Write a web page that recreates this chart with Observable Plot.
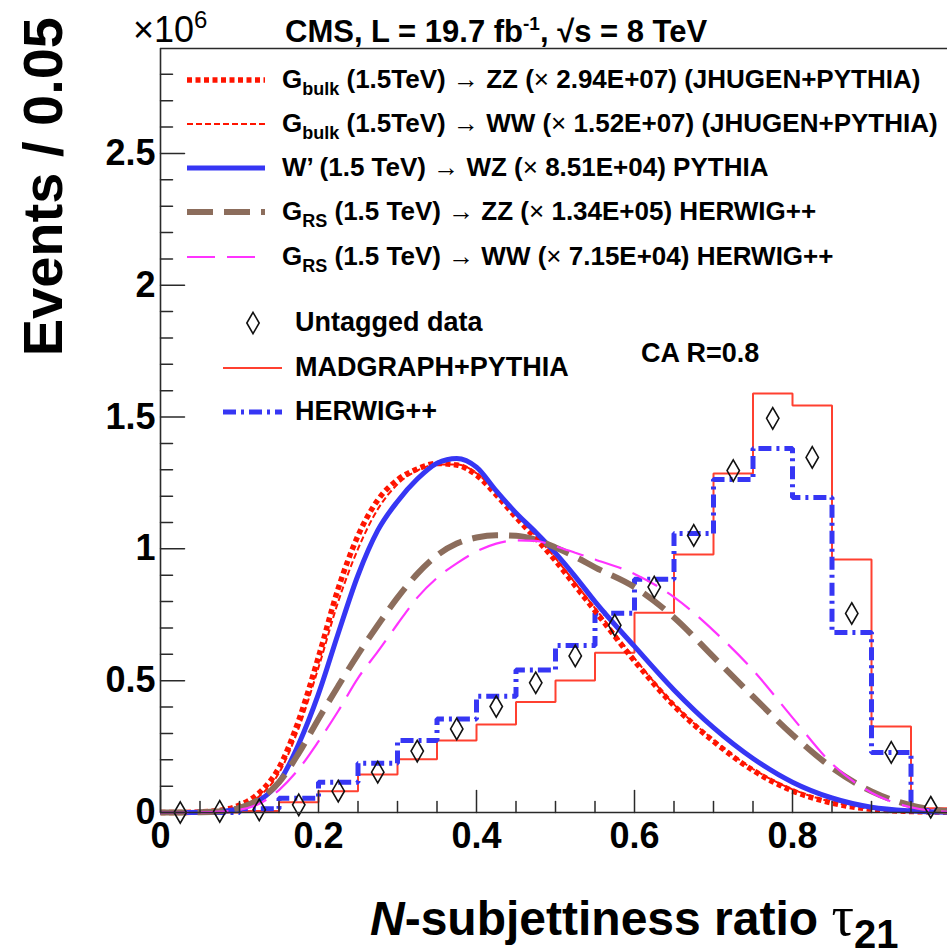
<!DOCTYPE html>
<html>
<head>
<meta charset="utf-8">
<script src="https://cdn.jsdelivr.net/npm/d3@7"></script>
<script src="https://cdn.jsdelivr.net/npm/@observablehq/plot@0.6"></script>
<style>
  body { margin: 0; background: #fff; }
  #chart { position: relative; width: 947px; height: 950px; overflow: hidden; }
  text { white-space: pre; }
</style>
</head>
<body>
<div id="chart"></div>
<script>
// ---------- data (events in units of 10^6) ----------
const binEdges   = [0, 0.05, 0.1, 0.15, 0.2, 0.25, 0.3, 0.35, 0.4, 0.45, 0.5, 0.55, 0.6, 0.65, 0.7, 0.75, 0.8, 0.85, 0.9, 0.95, 1.0];
const binCenters = [0.025, 0.075, 0.125, 0.175, 0.225, 0.275, 0.325, 0.375, 0.425, 0.475, 0.525, 0.575, 0.625, 0.675, 0.725, 0.775, 0.825, 0.875, 0.925, 0.975];
const untaggedData = [0.0, 0.004, 0.01, 0.029, 0.081, 0.153, 0.233, 0.317, 0.402, 0.492, 0.594, 0.71, 0.855, 1.051, 1.297, 1.495, 1.347, 0.755, 0.228, 0.02];
const madgraphPythia = [0, 0, 0.006, 0.039, 0.081, 0.144, 0.202, 0.273, 0.334, 0.419, 0.501, 0.606, 0.758, 0.979, 1.286, 1.589, 1.544, 0.96, 0.326, 0.016];
const herwigPP = [0, 0, 0.014, 0.054, 0.115, 0.187, 0.273, 0.355, 0.441, 0.541, 0.633, 0.756, 0.885, 1.058, 1.263, 1.381, 1.195, 0.683, 0.228, 0.008];

const curveX  = [0, 0.025, 0.05, 0.075, 0.1, 0.125, 0.15, 0.175, 0.2, 0.225, 0.25, 0.275, 0.3, 0.325, 0.35, 0.375, 0.4, 0.425, 0.45, 0.475, 0.5, 0.525, 0.55, 0.6, 0.65, 0.7, 0.75, 0.8, 0.85, 0.9, 0.95, 1.0];
const gbulkZZ = [0, 0, 0.002, 0.008, 0.028, 0.075, 0.17, 0.35, 0.59, 0.85, 1.05, 1.185, 1.262, 1.303, 1.324, 1.318, 1.28, 1.205, 1.12, 1.04, 0.955, 0.86, 0.765, 0.575, 0.405, 0.27, 0.16, 0.082, 0.036, 0.012, 0.004, 0.001];
const gbulkWW = [0, 0, 0.001, 0.006, 0.022, 0.062, 0.15, 0.32, 0.55, 0.80, 1.0, 1.15, 1.245, 1.297, 1.32, 1.32, 1.287, 1.215, 1.13, 1.05, 0.965, 0.87, 0.775, 0.585, 0.41, 0.275, 0.165, 0.088, 0.04, 0.014, 0.004, 0.001];
const wprimeWZ = [0, 0, 0.001, 0.004, 0.015, 0.045, 0.115, 0.26, 0.45, 0.68, 0.9, 1.07, 1.18, 1.265, 1.325, 1.343, 1.31, 1.22, 1.136, 1.063, 0.984, 0.895, 0.80, 0.63, 0.465, 0.322, 0.205, 0.115, 0.055, 0.02, 0.006, 0.001];
const grsZZ = [0, 0, 0.001, 0.005, 0.018, 0.05, 0.115, 0.225, 0.355, 0.48, 0.6, 0.71, 0.815, 0.905, 0.975, 1.02, 1.043, 1.052, 1.05, 1.035, 1.005, 0.97, 0.93, 0.855, 0.74, 0.59, 0.44, 0.295, 0.17, 0.08, 0.027, 0.003];
const grsWW = [0, 0, 0.0005, 0.003, 0.01, 0.033, 0.085, 0.165, 0.27, 0.385, 0.51, 0.61, 0.715, 0.815, 0.89, 0.945, 0.99, 1.02, 1.032, 1.03, 1.01, 0.985, 0.96, 0.905, 0.817, 0.69, 0.54, 0.36, 0.185, 0.075, 0.02, 0.002];

const xTickValues = [0, 0.2, 0.4, 0.6, 0.8, 1];
const xTickLabels = ["0", "0.2", "0.4", "0.6", "0.8"];
const yTickValues = [0, 0.5, 1, 1.5, 2, 2.5];
const yTickLabels = ["0", "0.5", "1", "1.5", "2", "2.5"];

// ---------- styles ----------
const FONT = "'Liberation Sans', Arial, Helvetica, sans-serif";
const BLUE = "#3636f4";
const styles = {
  gbulkZZ:  {stroke: "#ff1400", strokeWidth: 5.5, strokeDasharray: "5,3.5"},
  gbulkWW:  {stroke: "#ff1400", strokeWidth: 2, strokeDasharray: "6,3"},
  wprimeWZ: {stroke: BLUE, strokeWidth: 5},
  grsZZ:    {stroke: "#8c6d5c", strokeWidth: 6, strokeDasharray: "26,11"},
  grsWW:    {stroke: "#ff33ff", strokeWidth: 2.2, strokeDasharray: "28,12"},
  madgraph: {stroke: "#ff4030", strokeWidth: 2},
  herwig:   {stroke: BLUE, strokeWidth: 5, strokeDasharray: "13,5,3,5"}
};
const lineOpts = {strokeLinecap: "butt", strokeLinejoin: "miter"};

const Y_MAX = 2.898;
const histPoints = vals => binEdges.map((e, i) => ({x: e, y: vals[Math.min(i, vals.length - 1)]}));
const curvePoints = vals => curveX.map((x, i) => ({x, y: vals[i]}));
const dataPoints = binCenters.map((x, i) => ({x, y: untaggedData[i]}));

const tickShape = {draw(ctx, l) { ctx.moveTo(0, 0); ctx.lineTo(0, -l); }};
const xMinor = d3.range(0.05, 1.0001, 0.05).filter(v => Math.abs(v / 0.2 - Math.round(v / 0.2)) > 1e-6);
const yMinor = d3.range(0.1, Y_MAX, 0.1).filter(v => Math.abs(v / 0.5 - Math.round(v / 0.5)) > 1e-6);
const axisColor = "#2a2a2a";

const plot = Plot.plot({
  width: 947,
  height: 950,
  marginLeft: 160,
  marginRight: -3,
  marginTop: 48,
  marginBottom: 138,
  x: {domain: [0, 1]},
  y: {domain: [0, Y_MAX]},
  style: {fontFamily: FONT, background: "#fff", color: "#000"},
  marks: [
    Plot.line(histPoints(madgraphPythia), {x: "x", y: "y", curve: "step-after", ...styles.madgraph, ...lineOpts}),
    Plot.line(histPoints(herwigPP), {x: "x", y: "y", curve: "step-after", ...styles.herwig, ...lineOpts}),
    Plot.line(curvePoints(gbulkZZ), {x: "x", y: "y", curve: "monotone-x", ...styles.gbulkZZ, ...lineOpts}),
    Plot.line(curvePoints(gbulkWW), {x: "x", y: "y", curve: "monotone-x", ...styles.gbulkWW, ...lineOpts}),
    Plot.line(curvePoints(wprimeWZ), {x: "x", y: "y", curve: "monotone-x", ...styles.wprimeWZ, ...lineOpts}),
    Plot.line(curvePoints(grsZZ), {x: "x", y: "y", curve: "monotone-x", ...styles.grsZZ, ...lineOpts}),
    Plot.line(curvePoints(grsWW), {x: "x", y: "y", curve: "monotone-x", ...styles.grsWW, ...lineOpts}),
    Plot.dot(dataPoints, {x: "x", y: "y", symbol: "diamond", r: 6.5, stroke: "#111", strokeWidth: 1.6, fill: "none"}),
    // frame
    Plot.ruleX([0], {stroke: axisColor, strokeWidth: 1.6}),
    Plot.ruleY([0], {stroke: axisColor, strokeWidth: 1.6}),
    Plot.ruleY([Y_MAX], {stroke: axisColor, strokeWidth: 1.6}),
    // inward ticks
    Plot.vector(xTickValues, {x: d => d, frameAnchor: "bottom", length: 22, anchor: "start", rotate: 0, shape: tickShape, stroke: axisColor, strokeWidth: 1.5}),
    Plot.vector(xMinor, {x: d => d, frameAnchor: "bottom", length: 11, anchor: "start", rotate: 0, shape: tickShape, stroke: axisColor, strokeWidth: 1.5}),
    Plot.vector(yTickValues, {y: d => d, frameAnchor: "left", length: 24, anchor: "start", rotate: 90, shape: tickShape, stroke: axisColor, strokeWidth: 1.5}),
    Plot.vector(yMinor, {y: d => d, frameAnchor: "left", length: 12, anchor: "start", rotate: 90, shape: tickShape, stroke: axisColor, strokeWidth: 1.5}),
    // tick labels
    Plot.axisX({ticks: xTickValues.slice(0, xTickLabels.length), tickFormat: d => xTickLabels[xTickValues.indexOf(d)], tickSize: 0, tickPadding: 10, fontSize: 36, fontWeight: "bold", label: null, fill: "#000"}),
    Plot.axisY({ticks: yTickValues, tickFormat: d => yTickLabels[yTickValues.indexOf(d)], tickSize: 0, tickPadding: 5, fontSize: 36, fontWeight: "bold", label: null, fill: "#000"})
  ]
});

document.getElementById("chart").appendChild(plot);

// ---------- annotations & legend ----------
const svg = d3.select(plot);
const g = svg.append("g").attr("class", "annotations");

function addText(x, y, parts, opts = {}) {
  const t = g.append("text")
    .attr("x", x).attr("y", y)
    .attr("font-family", FONT)
    .attr("font-size", opts.size || 27)
    .attr("font-weight", opts.weight || "bold")
    .attr("text-anchor", opts.anchor || "start")
    .attr("fill", "#000");
  if (opts.transform) t.attr("transform", opts.transform);
  let shift = 0;
  for (const p of parts) {
    const s = t.append("tspan").text(p.t);
    const target = p.sub ? p.sub : (p.sup ? -p.sup : 0);
    if (target !== shift) { s.attr("dy", target - shift); shift = target; }
    if (p.size) s.attr("font-size", p.size);
    if (p.weight) s.attr("font-weight", p.weight);
    if (p.style) s.attr("font-style", p.style);
    if (p.family) s.attr("font-family", p.family);
  }
  return t;
}

function legendLine(x1, x2, y, st) {
  const l = g.append("line").attr("x1", x1).attr("x2", x2).attr("y1", y).attr("y2", y)
    .attr("stroke", st.stroke).attr("stroke-width", st.strokeWidth).attr("stroke-linecap", "butt");
  if (st.strokeDasharray) l.attr("stroke-dasharray", st.strokeDasharray);
}

// header
addText(133, 42, [{t: "×10", weight: "normal"}, {t: "6", sup: 14, size: 24, weight: "normal"}], {size: 36});
addText(285, 42, [{t: "CMS, L = 19.7 fb"}, {t: "-1", sup: 12, size: 19}, {t: ", √s = 8 TeV"}], {size: 31});

// axis titles
addText(0, 0, [{t: "Events / 0.05"}], {size: 56, anchor: "end", transform: "translate(62,17) rotate(-90)"});
addText(370, 935, [{t: "N", style: "italic"}, {t: "-subjettiness ratio "}, {t: "τ", family: "'Liberation Serif', 'DejaVu Serif', serif", weight: "normal", size: 56}, {t: "21", sub: 13, size: 40}], {size: 48});

// CA label
addText(641, 362, [{t: "CA R=0.8"}], {size: 27});

// legend (signals)
const LEG = 26;
const sigRows = [
  {y: 80,  st: styles.gbulkZZ,  parts: [{t: "G"}, {t: "bulk", sub: 7, size: 18}, {t: " (1.5TeV) "}, {t: "→", weight: "normal"}, {t: " ZZ ("}, {t: "×", weight: "normal"}, {t: " 2.94E+07) (JHUGEN+PYTHIA)"}]},
  {y: 124, st: styles.gbulkWW,  parts: [{t: "G"}, {t: "bulk", sub: 7, size: 18}, {t: " (1.5TeV) "}, {t: "→", weight: "normal"}, {t: " WW ("}, {t: "×", weight: "normal"}, {t: " 1.52E+07) (JHUGEN+PYTHIA)"}]},
  {y: 168, st: styles.wprimeWZ, parts: [{t: "W’ (1.5 TeV) "}, {t: "→", weight: "normal"}, {t: " WZ ("}, {t: "×", weight: "normal"}, {t: " 8.51E+04) PYTHIA"}]},
  {y: 212, st: styles.grsZZ,    parts: [{t: "G"}, {t: "RS", sub: 7, size: 18}, {t: " (1.5 TeV) "}, {t: "→", weight: "normal"}, {t: " ZZ ("}, {t: "×", weight: "normal"}, {t: " 1.34E+05) HERWIG++"}]},
  {y: 257, st: styles.grsWW,    parts: [{t: "G"}, {t: "RS", sub: 7, size: 18}, {t: " (1.5 TeV) "}, {t: "→", weight: "normal"}, {t: " WW ("}, {t: "×", weight: "normal"}, {t: " 7.15E+04) HERWIG++"}]}
];
for (const r of sigRows) {
  legendLine(187, 265, r.y, r.st);
  addText(282, r.y + 8, r.parts, {size: LEG});
}

// legend (data / MC)
g.append("path")
  .attr("d", d3.symbol(d3.symbolDiamond, 6.5 * 6.5 * Math.PI)())
  .attr("transform", "translate(253,323)")
  .attr("fill", "none").attr("stroke", "#111").attr("stroke-width", 1.6);
addText(295, 331, [{t: "Untagged data"}], {size: 27});
legendLine(223, 282, 368, styles.madgraph);
addText(295, 376, [{t: "MADGRAPH+PYTHIA"}], {size: 27});
legendLine(223, 282, 412, styles.herwig);
addText(295, 420, [{t: "HERWIG++"}], {size: 27});
</script>
</body>
</html>
